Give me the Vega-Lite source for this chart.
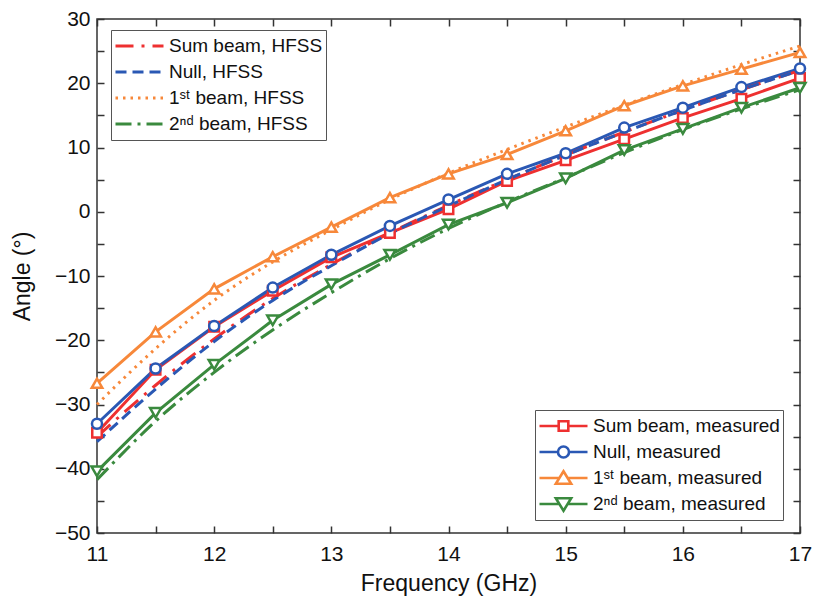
{
  "$schema": "https://vega.github.io/schema/vega-lite/v6.json",
  "width": 703,
  "height": 514,
  "autosize": "none",
  "padding": {"left": 97, "top": 19, "right": 13, "bottom": 67},
  "config": {
    "font": "Liberation Sans",
    "view": {"stroke": "#333333", "strokeWidth": 1.5},
    "axis": {
      "grid": false,
      "domain": false,
      "tickColor": "#333333",
      "tickWidth": 1.5,
      "tickSize": -7,
      "labelFontSize": 21,
      "labelColor": "#111111",
      "labelFlush": false,
      "labelOverlap": false,
      "labelBound": false,
      "titleFontSize": 23,
      "titleFontWeight": "normal",
      "titleColor": "#111111"
    },
    "legend": {
      "labelFontSize": 19,
      "labelColor": "#111111",
      "labelLimit": 400,
      "strokeColor": "#555555",
      "fillColor": "white",
      "padding": 3,
      "clipHeight": 26,
      "rowPadding": 0,
      "symbolSize": 2304,
      "symbolStrokeWidth": 3,
      "labelOffset": 4
    }
  },
  "datasets": {
    "meas": [
      {"f": 11, "angle": -34.4, "series": "Sum beam, measured"},
      {"f": 11.5, "angle": -24.6, "series": "Sum beam, measured"},
      {"f": 12, "angle": -17.9, "series": "Sum beam, measured"},
      {"f": 12.5, "angle": -12.3, "series": "Sum beam, measured"},
      {"f": 13, "angle": -7.1, "series": "Sum beam, measured"},
      {"f": 13.5, "angle": -3.3, "series": "Sum beam, measured"},
      {"f": 14, "angle": 0.4, "series": "Sum beam, measured"},
      {"f": 14.5, "angle": 4.8, "series": "Sum beam, measured"},
      {"f": 15, "angle": 8.0, "series": "Sum beam, measured"},
      {"f": 15.5, "angle": 11.3, "series": "Sum beam, measured"},
      {"f": 16, "angle": 14.6, "series": "Sum beam, measured"},
      {"f": 16.5, "angle": 17.6, "series": "Sum beam, measured"},
      {"f": 17, "angle": 20.8, "series": "Sum beam, measured"},
      {"f": 11, "angle": -33.0, "series": "Null, measured"},
      {"f": 11.5, "angle": -24.4, "series": "Null, measured"},
      {"f": 12, "angle": -17.8, "series": "Null, measured"},
      {"f": 12.5, "angle": -11.8, "series": "Null, measured"},
      {"f": 13, "angle": -6.7, "series": "Null, measured"},
      {"f": 13.5, "angle": -2.2, "series": "Null, measured"},
      {"f": 14, "angle": 1.9, "series": "Null, measured"},
      {"f": 14.5, "angle": 5.9, "series": "Null, measured"},
      {"f": 15, "angle": 9.1, "series": "Null, measured"},
      {"f": 15.5, "angle": 13.1, "series": "Null, measured"},
      {"f": 16, "angle": 16.2, "series": "Null, measured"},
      {"f": 16.5, "angle": 19.4, "series": "Null, measured"},
      {"f": 17, "angle": 22.3, "series": "Null, measured"},
      {"f": 11, "angle": -26.7, "series": "1ˢᵗ beam, measured"},
      {"f": 11.5, "angle": -18.7, "series": "1ˢᵗ beam, measured"},
      {"f": 12, "angle": -12.0, "series": "1ˢᵗ beam, measured"},
      {"f": 12.5, "angle": -7.0, "series": "1ˢᵗ beam, measured"},
      {"f": 13, "angle": -2.4, "series": "1ˢᵗ beam, measured"},
      {"f": 13.5, "angle": 2.2, "series": "1ˢᵗ beam, measured"},
      {"f": 14, "angle": 5.9, "series": "1ˢᵗ beam, measured"},
      {"f": 14.5, "angle": 8.9, "series": "1ˢᵗ beam, measured"},
      {"f": 15, "angle": 12.6, "series": "1ˢᵗ beam, measured"},
      {"f": 15.5, "angle": 16.5, "series": "1ˢᵗ beam, measured"},
      {"f": 16, "angle": 19.6, "series": "1ˢᵗ beam, measured"},
      {"f": 16.5, "angle": 22.2, "series": "1ˢᵗ beam, measured"},
      {"f": 17, "angle": 24.8, "series": "1ˢᵗ beam, measured"},
      {"f": 11, "angle": -40.4, "series": "2ⁿᵈ beam, measured"},
      {"f": 11.5, "angle": -31.3, "series": "2ⁿᵈ beam, measured"},
      {"f": 12, "angle": -23.8, "series": "2ⁿᵈ beam, measured"},
      {"f": 12.5, "angle": -16.9, "series": "2ⁿᵈ beam, measured"},
      {"f": 13, "angle": -11.3, "series": "2ⁿᵈ beam, measured"},
      {"f": 13.5, "angle": -6.7, "series": "2ⁿᵈ beam, measured"},
      {"f": 14, "angle": -2.0, "series": "2ⁿᵈ beam, measured"},
      {"f": 14.5, "angle": 1.4, "series": "2ⁿᵈ beam, measured"},
      {"f": 15, "angle": 5.2, "series": "2ⁿᵈ beam, measured"},
      {"f": 15.5, "angle": 9.6, "series": "2ⁿᵈ beam, measured"},
      {"f": 16, "angle": 12.9, "series": "2ⁿᵈ beam, measured"},
      {"f": 16.5, "angle": 16.2, "series": "2ⁿᵈ beam, measured"},
      {"f": 17, "angle": 19.3, "series": "2ⁿᵈ beam, measured"}
    ],
    "hfss": [
      {"f": 11, "angle": -35.0, "series": "Sum beam, HFSS"},
      {"f": 11.5, "angle": -27.0, "series": "Sum beam, HFSS"},
      {"f": 12, "angle": -19.8, "series": "Sum beam, HFSS"},
      {"f": 12.5, "angle": -13.5, "series": "Sum beam, HFSS"},
      {"f": 13, "angle": -8.2, "series": "Sum beam, HFSS"},
      {"f": 13.5, "angle": -3.3, "series": "Sum beam, HFSS"},
      {"f": 14, "angle": 1.0, "series": "Sum beam, HFSS"},
      {"f": 14.5, "angle": 5.0, "series": "Sum beam, HFSS"},
      {"f": 15, "angle": 8.8, "series": "Sum beam, HFSS"},
      {"f": 15.5, "angle": 12.4, "series": "Sum beam, HFSS"},
      {"f": 16, "angle": 15.8, "series": "Sum beam, HFSS"},
      {"f": 16.5, "angle": 19.0, "series": "Sum beam, HFSS"},
      {"f": 17, "angle": 22.0, "series": "Sum beam, HFSS"},
      {"f": 11, "angle": -35.8, "series": "Null, HFSS"},
      {"f": 11.5, "angle": -27.6, "series": "Null, HFSS"},
      {"f": 12, "angle": -20.2, "series": "Null, HFSS"},
      {"f": 12.5, "angle": -13.8, "series": "Null, HFSS"},
      {"f": 13, "angle": -8.4, "series": "Null, HFSS"},
      {"f": 13.5, "angle": -3.4, "series": "Null, HFSS"},
      {"f": 14, "angle": 0.9, "series": "Null, HFSS"},
      {"f": 14.5, "angle": 5.0, "series": "Null, HFSS"},
      {"f": 15, "angle": 8.8, "series": "Null, HFSS"},
      {"f": 15.5, "angle": 12.4, "series": "Null, HFSS"},
      {"f": 16, "angle": 15.8, "series": "Null, HFSS"},
      {"f": 16.5, "angle": 19.0, "series": "Null, HFSS"},
      {"f": 17, "angle": 22.0, "series": "Null, HFSS"},
      {"f": 11, "angle": -30.0, "series": "1ˢᵗ beam, HFSS"},
      {"f": 11.5, "angle": -21.3, "series": "1ˢᵗ beam, HFSS"},
      {"f": 12, "angle": -13.8, "series": "1ˢᵗ beam, HFSS"},
      {"f": 12.5, "angle": -7.8, "series": "1ˢᵗ beam, HFSS"},
      {"f": 13, "angle": -2.8, "series": "1ˢᵗ beam, HFSS"},
      {"f": 13.5, "angle": 1.9, "series": "1ˢᵗ beam, HFSS"},
      {"f": 14, "angle": 6.0, "series": "1ˢᵗ beam, HFSS"},
      {"f": 14.5, "angle": 9.7, "series": "1ˢᵗ beam, HFSS"},
      {"f": 15, "angle": 13.2, "series": "1ˢᵗ beam, HFSS"},
      {"f": 15.5, "angle": 16.6, "series": "1ˢᵗ beam, HFSS"},
      {"f": 16, "angle": 19.8, "series": "1ˢᵗ beam, HFSS"},
      {"f": 16.5, "angle": 22.9, "series": "1ˢᵗ beam, HFSS"},
      {"f": 17, "angle": 25.8, "series": "1ˢᵗ beam, HFSS"},
      {"f": 11, "angle": -41.7, "series": "2ⁿᵈ beam, HFSS"},
      {"f": 11.5, "angle": -32.6, "series": "2ⁿᵈ beam, HFSS"},
      {"f": 12, "angle": -25.0, "series": "2ⁿᵈ beam, HFSS"},
      {"f": 12.5, "angle": -18.4, "series": "2ⁿᵈ beam, HFSS"},
      {"f": 13, "angle": -12.6, "series": "2ⁿᵈ beam, HFSS"},
      {"f": 13.5, "angle": -7.3, "series": "2ⁿᵈ beam, HFSS"},
      {"f": 14, "angle": -2.6, "series": "2ⁿᵈ beam, HFSS"},
      {"f": 14.5, "angle": 1.5, "series": "2ⁿᵈ beam, HFSS"},
      {"f": 15, "angle": 5.3, "series": "2ⁿᵈ beam, HFSS"},
      {"f": 15.5, "angle": 9.2, "series": "2ⁿᵈ beam, HFSS"},
      {"f": 16, "angle": 12.8, "series": "2ⁿᵈ beam, HFSS"},
      {"f": 16.5, "angle": 16.0, "series": "2ⁿᵈ beam, HFSS"},
      {"f": 17, "angle": 19.0, "series": "2ⁿᵈ beam, HFSS"}
    ]
  },
  "layer": [
    {
      "data": {"name": "meas"},
      "mark": {"type": "line", "strokeWidth": 3},
      "encoding": {
        "x": {"field": "f", "type": "quantitative", "scale": {"domain": [11, 17], "nice": false, "zero": false},
          "axis": {"orient": "top", "title": null, "labels": false,
            "values": [11, 11.5, 12, 12.5, 13, 13.5, 14, 14.5, 15, 15.5, 16, 16.5, 17],
            "encode": {"ticks": {"update": {"y2": {"signal": "datum.value % 1 === 0 ? 7 : 4"}}}}}},
        "y": {"field": "angle", "type": "quantitative", "scale": {"domain": [-50, 30], "nice": false, "zero": false},
          "axis": {"orient": "right", "title": null, "labels": false,
            "values": [-50, -45, -40, -35, -30, -25, -20, -15, -10, -5, 0, 5, 10, 15, 20, 25, 30],
            "encode": {"ticks": {"update": {"x2": {"signal": "datum.value % 10 === 0 ? -7 : -4"}}}}}},
        "color": {"field": "series", "type": "nominal",
          "scale": {"domain": ["Sum beam, measured", "Null, measured", "1ˢᵗ beam, measured", "2ⁿᵈ beam, measured"],
            "range": ["#EE3030", "#2A58B4", "#F7883A", "#3A8A3E"]},
          "legend": {"title": null, "orient": "none", "legendX": 438, "legendY": 391,
            "symbolFillColor": "white",
            "encode": {"symbols": {"update": {
              "shape": {"signal": "datum.index === 0 ? 'M-1,0H-0.2M0.2,0H1M-0.2,-0.2H0.2V0.2H-0.2Z' : datum.index === 1 ? 'M-1,0H-0.23M0.23,0H1M-0.23,0A0.23,0.23 0 1,0 0.23,0A0.23,0.23 0 1,0 -0.23,0Z' : datum.index === 2 ? 'M-1,0H-0.17M0.17,0H1M0,-0.28L0.32,0.24H-0.32Z' : 'M-1,0H-0.17M0.17,0H1M0,0.28L0.32,-0.24H-0.32Z'"},
              "fill": {"value": "white"},
              "strokeWidth": {"value": 2.6}
            }}}}
        }
      }
    },
    {
      "data": {"name": "hfss"},
      "mark": {"type": "line", "strokeWidth": 3, "interpolate": "monotone"},
      "encoding": {
        "x": {"field": "f", "type": "quantitative", "scale": {"domain": [11, 17], "nice": false, "zero": false},
          "axis": {"orient": "bottom", "title": "Frequency (GHz)", "labelPadding": 17, "titlePadding": 8,
            "values": [11, 11.5, 12, 12.5, 13, 13.5, 14, 14.5, 15, 15.5, 16, 16.5, 17],
            "labelExpr": "datum.value % 1 === 0 ? format(datum.value, 'd') : ''",
            "encode": {"ticks": {"update": {"y2": {"signal": "datum.value % 1 === 0 ? -7 : -4"}}}}}},
        "y": {"field": "angle", "type": "quantitative", "scale": {"domain": [-50, 30], "nice": false, "zero": false},
          "axis": {"orient": "left", "title": "Angle (°)", "labelPadding": 14, "titlePadding": 20,
            "values": [-50, -45, -40, -35, -30, -25, -20, -15, -10, -5, 0, 5, 10, 15, 20, 25, 30],
            "labelExpr": "datum.value % 10 === 0 ? datum.label : ''",
            "encode": {"ticks": {"update": {"x2": {"signal": "datum.value % 10 === 0 ? 7 : 4"}}}}}},
        "color": {"field": "series", "type": "nominal",
          "scale": {"domain": ["Sum beam, HFSS", "Null, HFSS", "1ˢᵗ beam, HFSS", "2ⁿᵈ beam, HFSS"],
            "range": ["#EE3030", "#2A58B4", "#F7883A", "#3A8A3E"]},
          "legend": {"title": null, "orient": "none", "legendX": 14, "legendY": 11, "symbolType": "stroke"}},
        "strokeDash": {"field": "series", "type": "nominal",
          "scale": {"domain": ["Sum beam, HFSS", "Null, HFSS", "1ˢᵗ beam, HFSS", "2ⁿᵈ beam, HFSS"],
            "range": [[18, 8, 3, 8], [11, 6], [2.5, 5], [16, 6, 3, 6]]},
          "legend": {"title": null, "orient": "none", "legendX": 14, "legendY": 11, "symbolType": "stroke"}}
      }
    },
    {
      "data": {"name": "meas"},
      "mark": {"type": "point", "filled": false, "fill": "white", "strokeWidth": 2.5, "opacity": 1},
      "encoding": {
        "x": {"field": "f", "type": "quantitative", "axis": null},
        "y": {"field": "angle", "type": "quantitative", "axis": null},
        "color": {"field": "series", "type": "nominal",
          "scale": {"domain": ["Sum beam, measured", "Null, measured", "1ˢᵗ beam, measured", "2ⁿᵈ beam, measured"],
            "range": ["#EE3030", "#2A58B4", "#F7883A", "#3A8A3E"]},
          "legend": null},
        "shape": {"field": "series", "type": "nominal",
          "scale": {"domain": ["Sum beam, measured", "Null, measured", "1ˢᵗ beam, measured", "2ⁿᵈ beam, measured"],
            "range": ["square", "circle", "triangle-up", "triangle-down"]},
          "legend": null},
        "size": {"field": "series", "type": "nominal",
          "scale": {"domain": ["Sum beam, measured", "Null, measured", "1ˢᵗ beam, measured", "2ⁿᵈ beam, measured"],
            "range": [90, 121, 225, 225]},
          "legend": null}
      }
    }
  ],
  "resolve": {
    "scale": {"color": "independent", "strokeDash": "independent"},
    "axis": {"x": "independent", "y": "independent"}
  }
}
